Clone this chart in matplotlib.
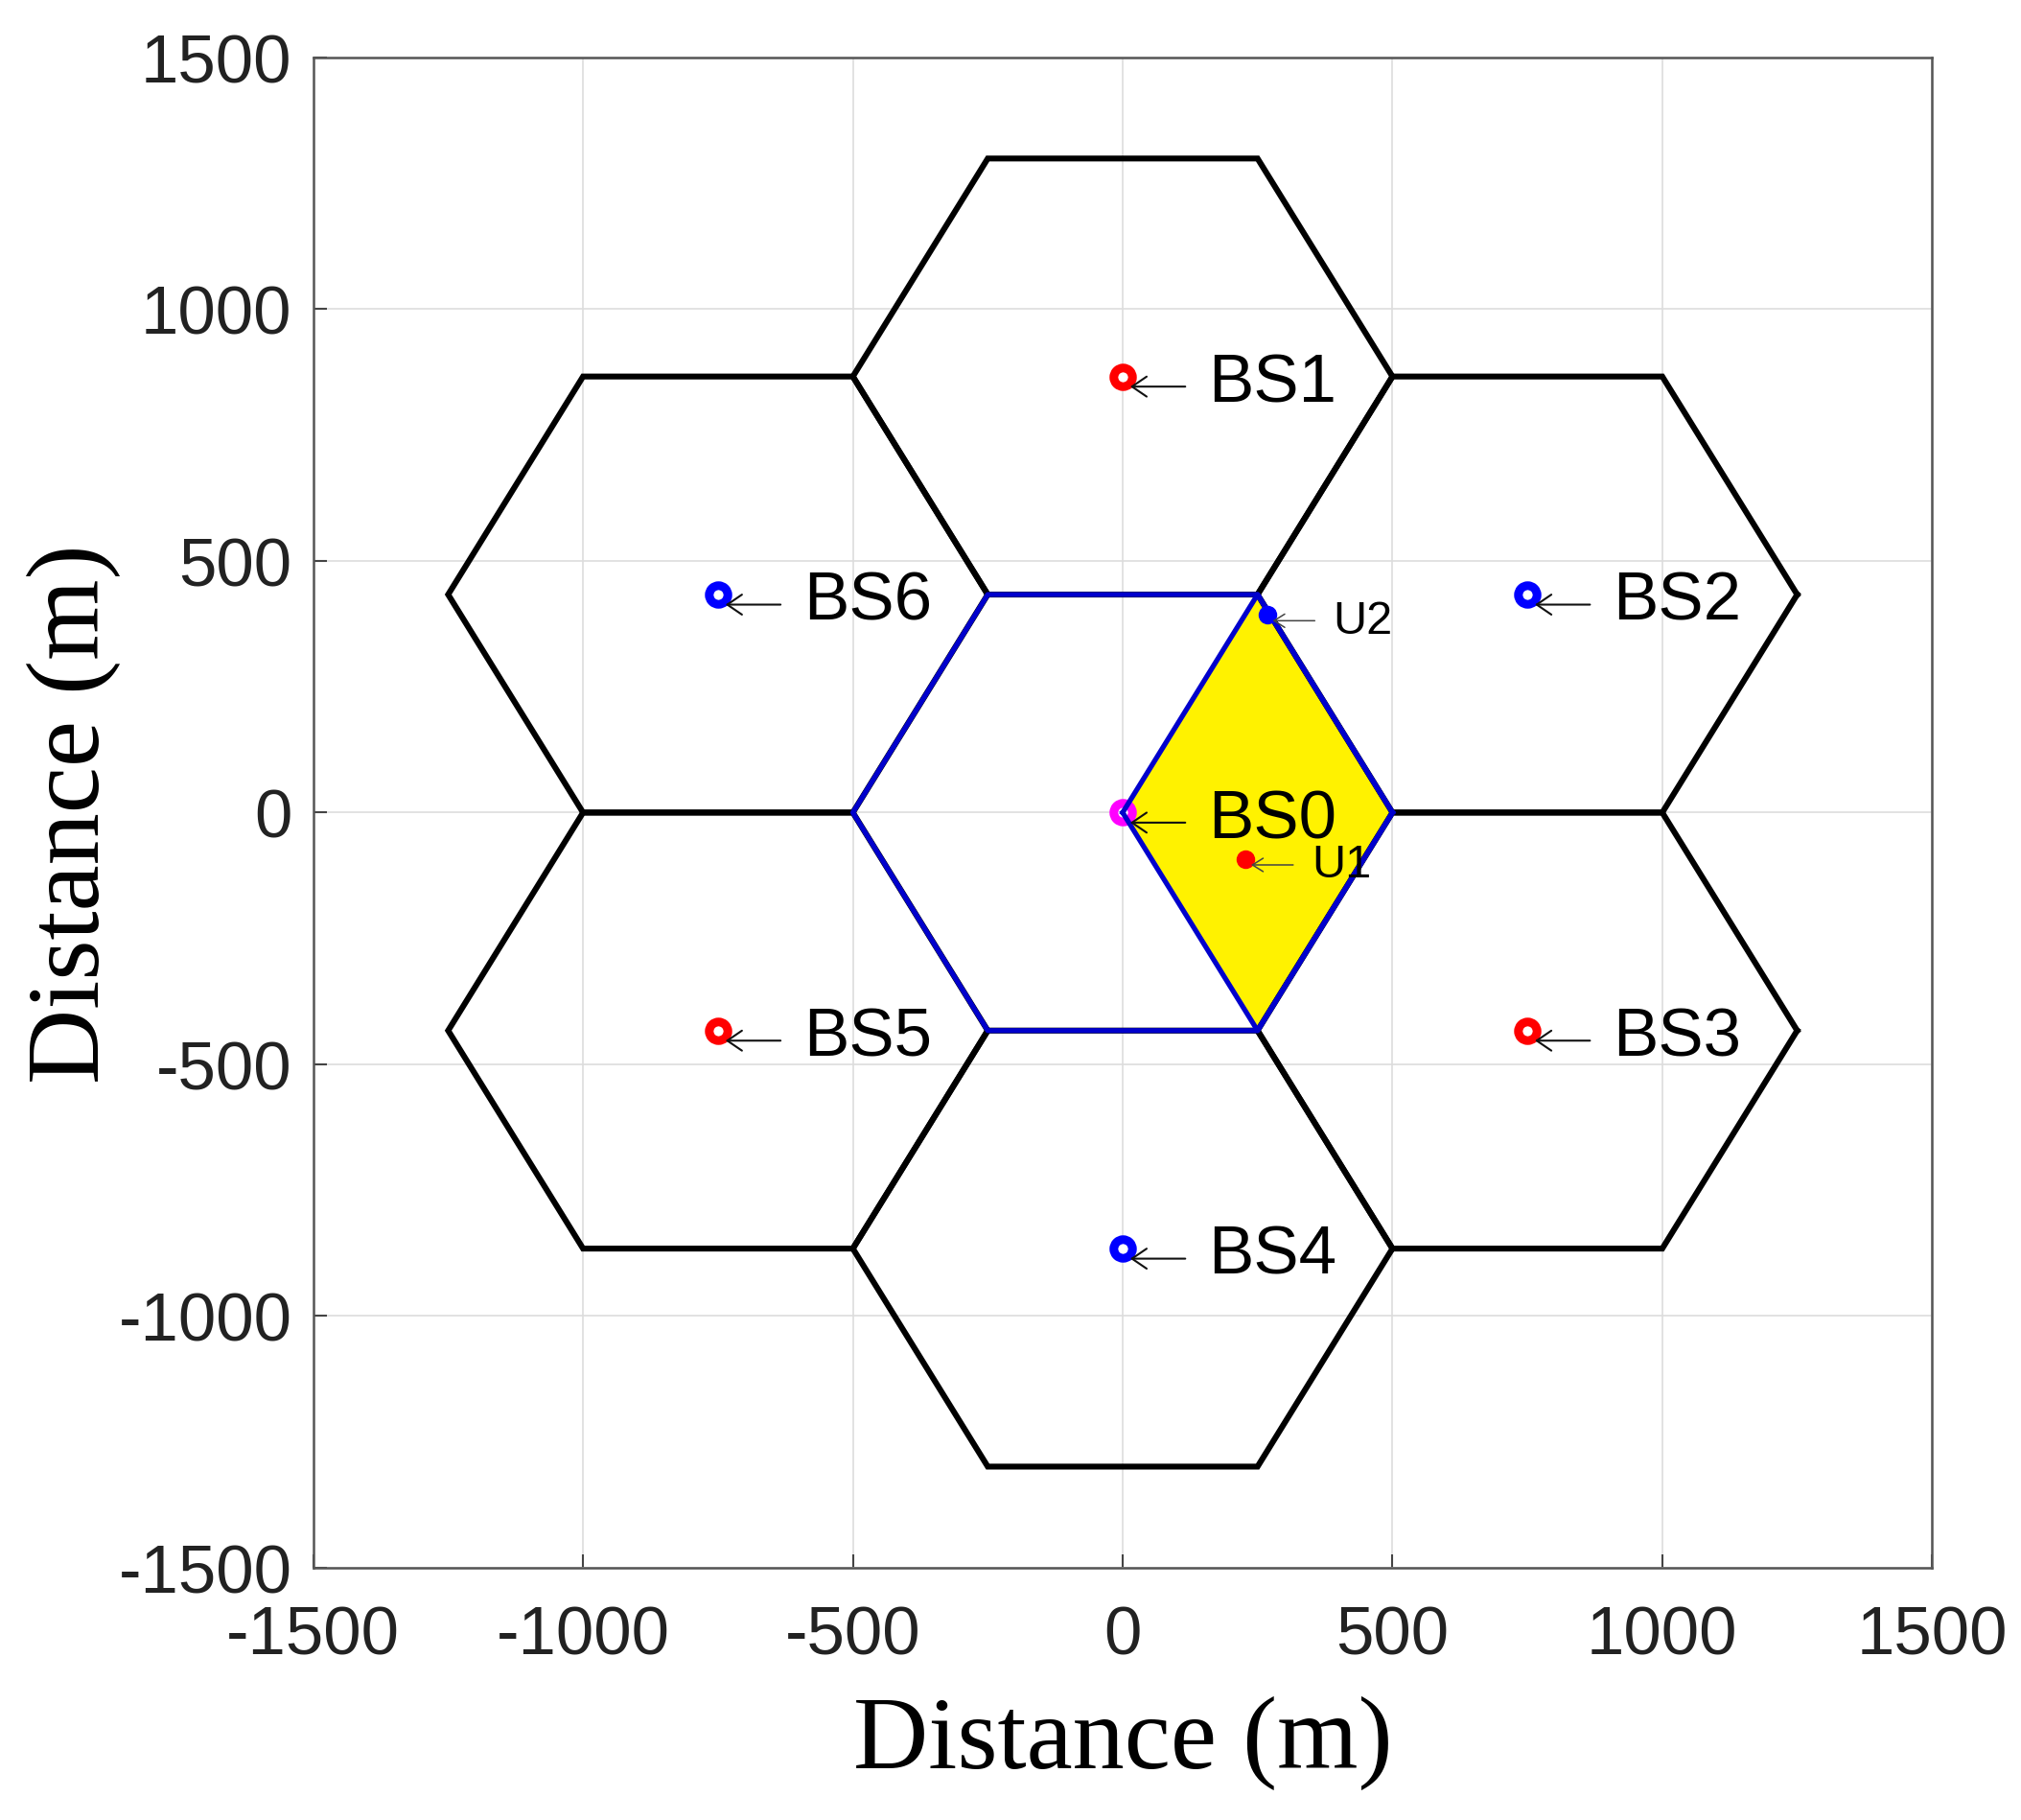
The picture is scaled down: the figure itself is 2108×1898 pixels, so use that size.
import numpy as np
import matplotlib
matplotlib.use("Agg")
import matplotlib.pyplot as plt

# ---- data ----
cell_radius = 500.0
bs_labels = ["BS0", "BS1", "BS2", "BS3", "BS4", "BS5", "BS6"]
bs_x = [0.0, 0.0, 750.0, 750.0, 0.0, -750.0, -750.0]
bs_y = [0.0, 866.0, 433.0, -433.0, -866.0, -433.0, 433.0]
bs_colors = ["magenta", "red", "blue", "red", "blue", "red", "blue"]

user_labels = ["U1", "U2"]
user_x = [228.0, 268.0]
user_y = [-92.0, 393.0]
user_colors = ["red", "blue"]

ticks = [-1500, -1000, -500, 0, 500, 1000, 1500]
tick_labels = ["-1500", "-1000", "-500", "0", "500", "1000", "1500"]

# ---- figure ----
fig = plt.figure(figsize=(21.08, 18.99), dpi=100)
ax = fig.add_axes([0.155, 0.1385, 0.801, 0.8295])

ang = np.deg2rad(np.arange(0, 361, 60))

def hexagon(cx, cy):
    return cx + cell_radius * np.cos(ang), cy + cell_radius * np.sin(ang)

# yellow sector (rhombus) of the central cell
c60, s60 = np.cos(np.deg2rad(60)), np.sin(np.deg2rad(60))
rx = [bs_x[0], bs_x[0] + cell_radius * c60, bs_x[0] + cell_radius,
      bs_x[0] + cell_radius * c60, bs_x[0]]
ry = [bs_y[0], bs_y[0] + cell_radius * s60, bs_y[0],
      bs_y[0] - cell_radius * s60, bs_y[0]]
ax.fill(rx, ry, color="#FFF200", zorder=1)

# outer hexagons
for cx, cy in zip(bs_x[1:], bs_y[1:]):
    hx, hy = hexagon(cx, cy)
    ax.plot(hx, hy, color="black", lw=4.4, zorder=2, solid_joinstyle="miter")

# central hexagon + rhombus outline
hx, hy = hexagon(bs_x[0], bs_y[0])
ax.plot(hx, hy, color="#0000CC", lw=3.8, zorder=3)
ax.plot(rx, ry, color="#0000CC", lw=3.8, zorder=3)

# base stations
for i, (x, y, c, lab) in enumerate(zip(bs_x, bs_y, bs_colors, bs_labels)):
    ax.plot(x, y, "o", ms=14, mew=6.5, mec=c, mfc="white",
            zorder=2.5 if i == 0 else 5)
    yo = y - 20
    ax.annotate("", xy=(x + 14, yo), xytext=(x + 116, yo),
                arrowprops=dict(arrowstyle="->,head_length=1.1,head_width=0.75",
                                color="#111111", lw=1.5, shrinkA=0, shrinkB=0),
                zorder=6)
    ax.text(x + 158, yo + 5, lab, fontsize=51, family="Liberation Sans",
            va="center", ha="left", zorder=6)

# users
for x, y, c, lab in zip(user_x, user_y, user_colors, user_labels):
    ax.plot(x, y, "o", ms=13, color=c, zorder=5)
    yo = y - 12
    ax.annotate("", xy=(x + 10, yo), xytext=(x + 88, yo),
                arrowprops=dict(arrowstyle="->,head_length=0.8,head_width=0.5",
                                color="#444444", lw=1.1, shrinkA=0, shrinkB=0),
                zorder=6)
    ax.text(x + 122, yo, lab, fontsize=35, family="Liberation Sans",
            va="center", ha="left", zorder=6)

ax.set_xlim(-1500, 1500)
ax.set_ylim(-1500, 1500)
ax.set_xticks(ticks)
ax.set_yticks(ticks)
ax.set_xticklabels(tick_labels, family="Liberation Sans", fontsize=51, color="#222222")
ax.set_yticklabels(tick_labels, family="Liberation Sans", fontsize=51, color="#222222")
ax.tick_params(direction="in", length=10, width=1.5, color="#444444")
ax.tick_params(axis="x", pad=28)
ax.tick_params(axis="y", pad=16)
ax.grid(True, color="#DDDDDD", lw=1.2, zorder=0)
ax.set_axisbelow(True)
for s in ax.spines.values():
    s.set_color("#555555")
    s.set_linewidth(1.8)

ax.set_xlabel("Distance (m)", family="Liberation Serif", fontsize=78, labelpad=20)
ax.set_ylabel("Distance (m)", family="Liberation Serif", fontsize=78, labelpad=-2)

fig.savefig("out.png", dpi=100)
